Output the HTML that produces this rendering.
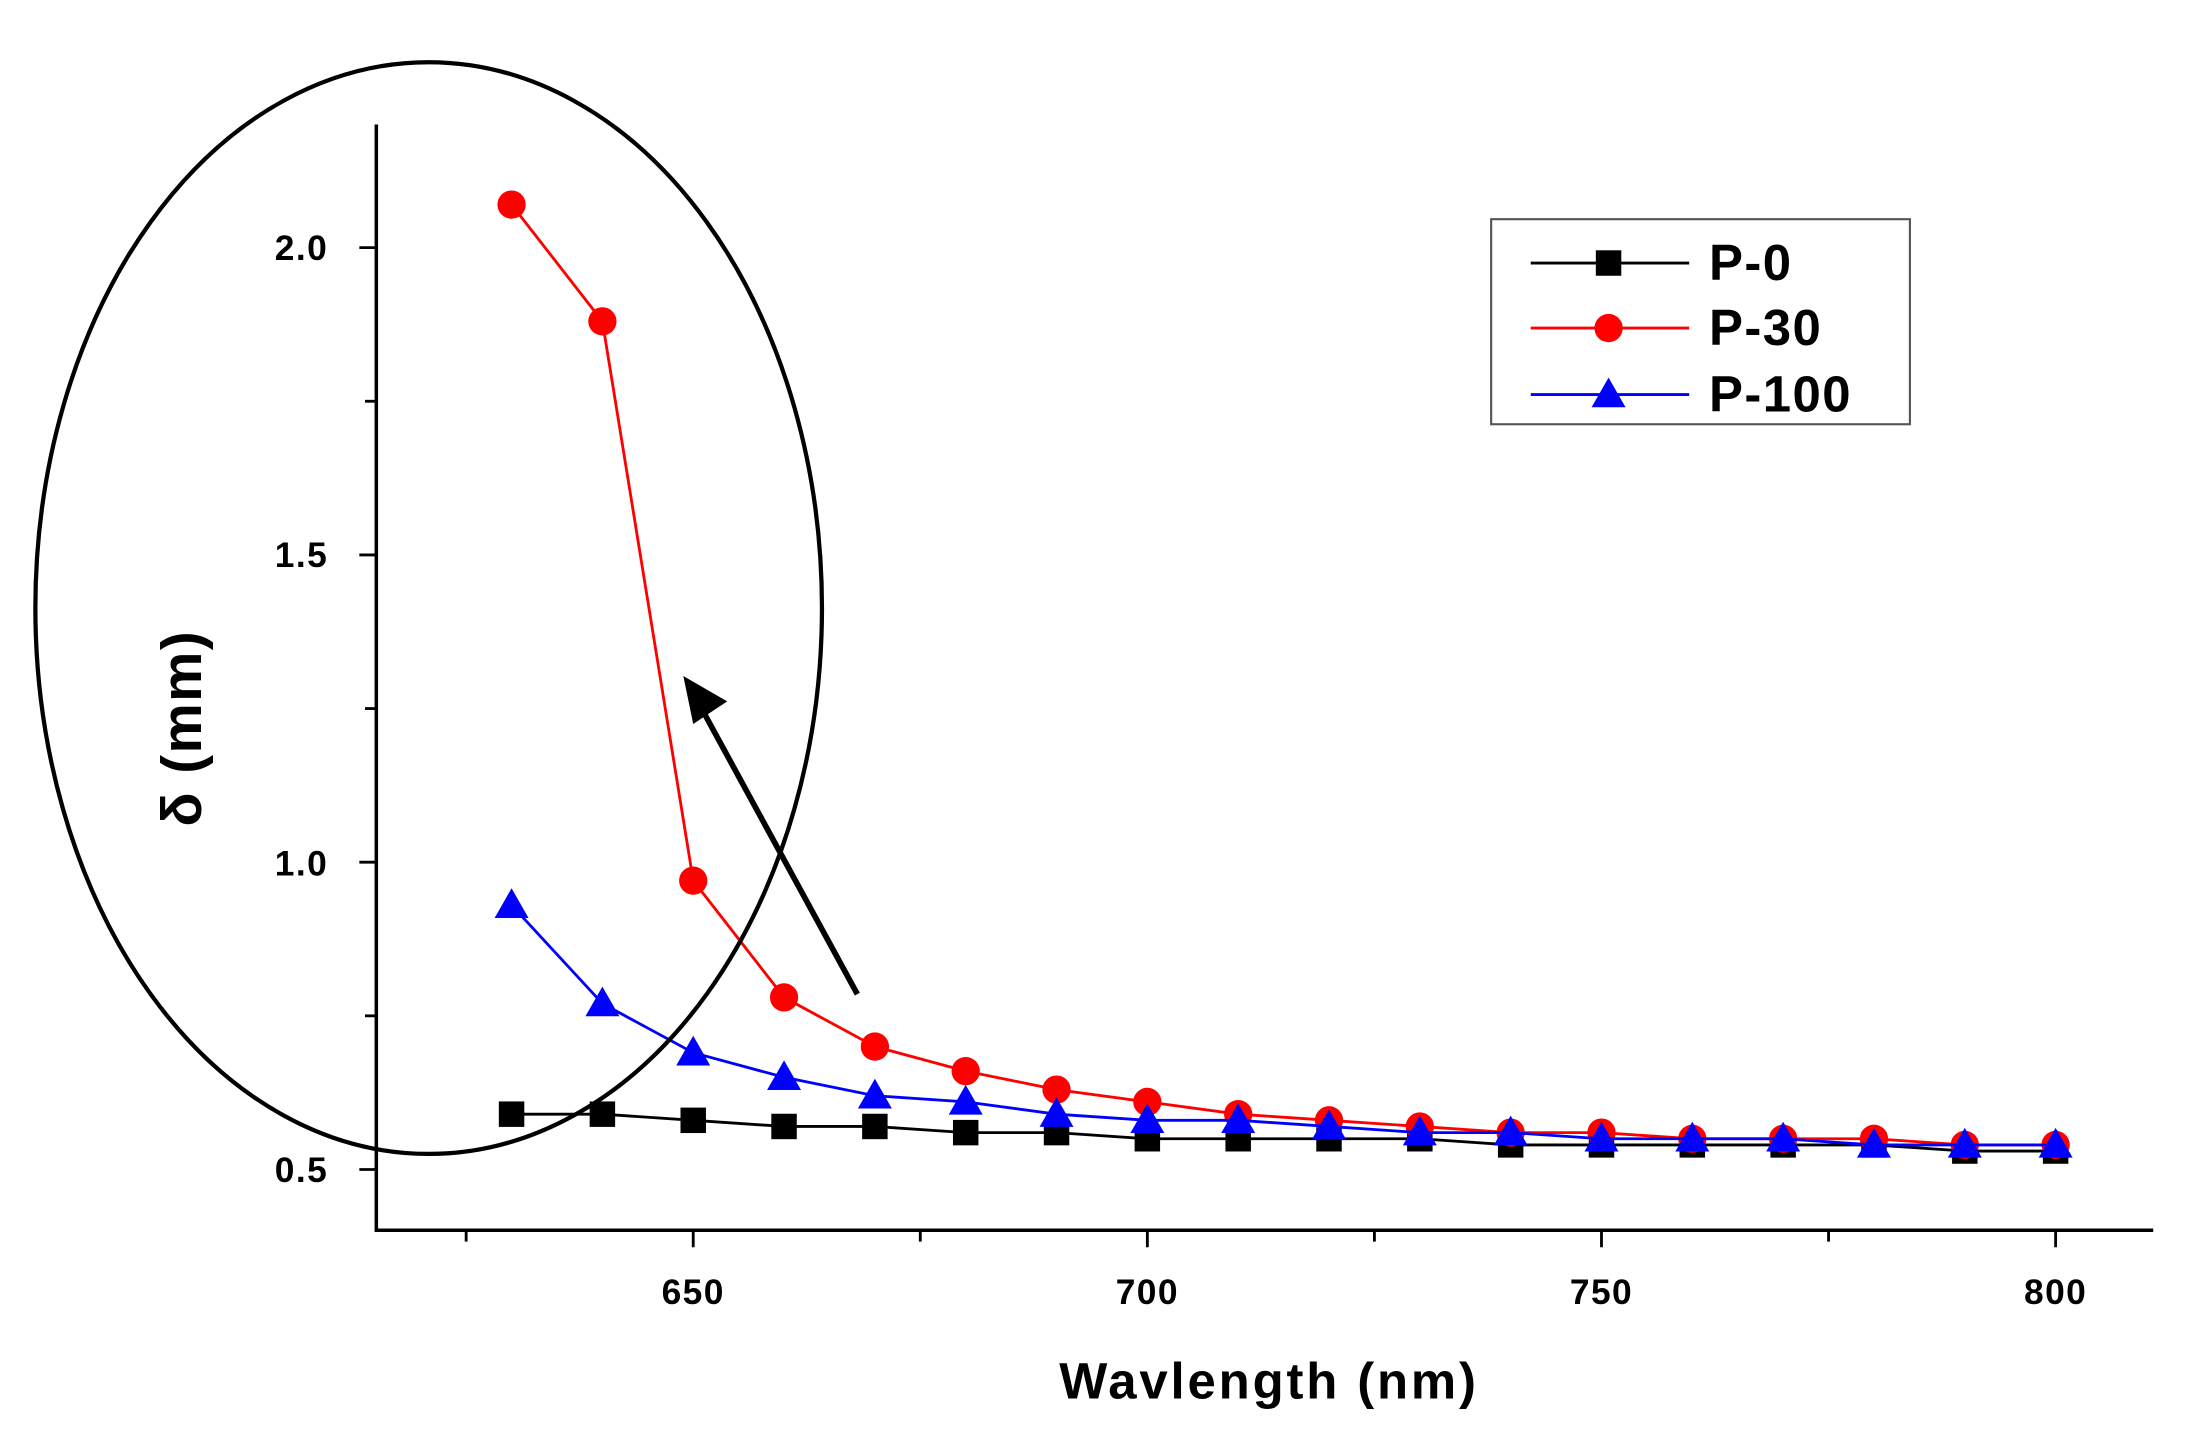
<!DOCTYPE html>
<html><head><style>html,body{margin:0;padding:0;background:#fff}svg{display:block}</style></head>
<body>
<svg id="s" width="2207" height="1441" viewBox="0 0 1560 1019" preserveAspectRatio="none" xmlns="http://www.w3.org/2000/svg" font-family="Liberation Sans, sans-serif" font-weight="bold">
<rect width="1560" height="1019" fill="#fff"/>
<g stroke="#000" stroke-width="2.5" fill="none">
<line x1="266" y1="88" x2="266" y2="871"/>
<line x1="265" y1="870" x2="1522" y2="870"/>
</g>
<g id="ticks" stroke="#000" stroke-width="2"></g>
<g font-size="25" fill="#000" letter-spacing="1">
<text x="232" y="184" text-anchor="end">2.0</text>
<text x="232" y="401" text-anchor="end">1.5</text>
<text x="232" y="619" text-anchor="end">1.0</text>
<text x="232" y="836" text-anchor="end">0.5</text>
<text x="490" y="922" text-anchor="middle">650</text>
<text x="811" y="922" text-anchor="middle">700</text>
<text x="1132" y="922" text-anchor="middle">750</text>
<text x="1453" y="922" text-anchor="middle">800</text>
<text x="897" y="989" text-anchor="middle" font-size="36" letter-spacing="2">Wavlength (nm)</text>
<text transform="translate(142,515) rotate(-90)" text-anchor="middle" font-size="40">δ (mm)</text>
</g>
<g id="series"></g>
<ellipse cx="303" cy="430" rx="278" ry="386" fill="none" stroke="#000" stroke-width="3"/>
<line x1="606" y1="703" x2="497" y2="503" stroke="#000" stroke-width="4"/>
<polygon points="483,478 514,496 490,512" fill="#000"/>
<rect x="1054" y="155" width="296" height="145" fill="#fff" stroke="#555" stroke-width="1.5"/>
<g font-size="36" fill="#000" letter-spacing="1">
<line x1="1082" y1="186" x2="1194" y2="186" stroke="#000" stroke-width="2"/><rect x="1128" y="177" width="18" height="18" fill="#000"/>
<text x="1208" y="198">P-0</text>
<line x1="1082" y1="232" x2="1194" y2="232" stroke="#f00" stroke-width="2"/><circle cx="1137" cy="232" r="10" fill="#f00"/>
<text x="1208" y="244">P-30</text>
<line x1="1082" y1="279" x2="1194" y2="279" stroke="#00f" stroke-width="2"/><polygon points="1137,267 1149,288 1125,288" fill="#00f"/>
<text x="1208" y="291">P-100</text>
</g>
<script>
var NS="http://www.w3.org/2000/svg";
function X(w){return 490+(w-650)*6.42}
function Y(v){return 827-(v-0.5)*434.6}
function el(p,t,a){var e=document.createElementNS(NS,t);for(var k in a)e.setAttribute(k,a[k]);p.appendChild(e);return e}
var tk=document.getElementById("ticks");
for(var w=625;w<=800;w+=25){var big=(w%50==0);el(tk,"line",{x1:X(w),y1:870,x2:X(w),y2:big?882:878})}
for(var v=0.5;v<=2.01;v+=0.25){var big=Math.abs(v*2-Math.round(v*2))<0.01;el(tk,"line",{x1:266,y1:Y(v),x2:big?254:258,y2:Y(v)})}
var ws=[];for(var w=630;w<=800;w+=10)ws.push(w);
var P0=[0.59,0.59,0.58,0.57,0.57,0.56,0.56,0.55,0.55,0.55,0.55,0.54,0.54,0.54,0.54,0.54,0.53,0.53];
var P30=[2.07,1.88,0.97,0.78,0.70,0.66,0.63,0.61,0.59,0.58,0.57,0.56,0.56,0.55,0.55,0.55,0.54,0.54];
var P100=[0.93,0.77,0.69,0.65,0.62,0.61,0.59,0.58,0.58,0.57,0.56,0.56,0.55,0.55,0.55,0.54,0.54,0.54];
var g=document.getElementById("series");
function ser(d,c,m){var pts=ws.map(function(w,i){return X(w)+","+Y(d[i])}).join(" ");
el(g,"polyline",{points:pts,fill:"none",stroke:c,"stroke-width":2});
ws.forEach(function(w,i){var x=X(w),y=Y(d[i]);
if(m=="s")el(g,"rect",{x:x-9,y:y-9,width:18,height:18,fill:c});
else if(m=="c")el(g,"circle",{cx:x,cy:y,r:10,fill:c});
else el(g,"polygon",{points:x+","+(y-12)+" "+(x+12)+","+(y+9)+" "+(x-12)+","+(y+9),fill:c});});}
ser(P0,"#000","s");ser(P30,"#f00","c");ser(P100,"#00f","t");
</script>
</svg>
</body></html>
